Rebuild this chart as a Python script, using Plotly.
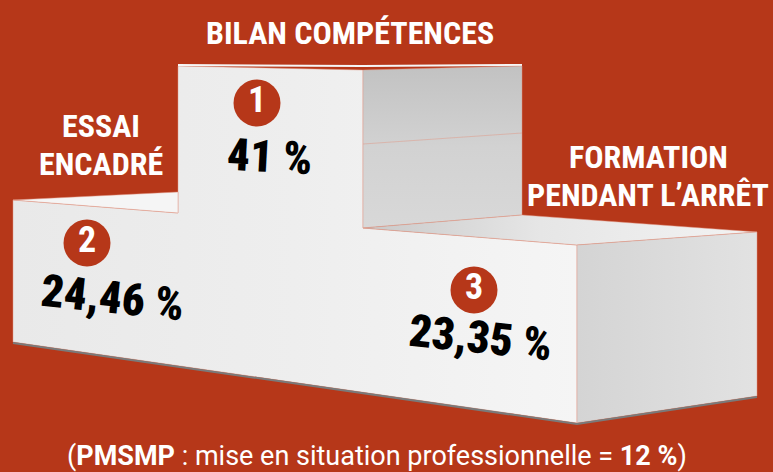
import plotly.graph_objects as go

# rankings (podium order: 1st, 2nd, 3rd)
ranks = [1, 2, 3]
categories = ["BILAN COMPÉTENCES", "ESSAI ENCADRÉ", "FORMATION PENDANT L’ARRÊT"]
cat_lines = [["BILAN COMPÉTENCES"], ["ESSAI", "ENCADRÉ"], ["FORMATION", "PENDANT L’ARRÊT"]]
values = [41, 24.46, 23.35]
other_label = "PMSMP"
other_text = "mise en situation professionnelle"
other_value = 12

RED = "#b63719"
EDGE = "rgba(225,150,130,0.8)"
FONT = "Roboto Condensed"
W, H = 773, 472


def fr_pct(v):
    return f"{v:g}".replace(".", ",") + " %"


# podium geometry, in pixels of the page
xl, x1, x2, x3, x4 = 13, 178, 363, 522, 757  # left edge, step 1 left, step 1 right, back right, side right
x_front_r = 577
top1, top1_r, top1_back = 66, 70, 66
step2_back, step2_top_l, step2_top_r = 192, 200, 213
base1_l, base1_r = 228, 215
step3_front, step3_back = 245, 232
bot_l, bot_m, bot_r = 342, 423, 396


def poly(pts, color=None, grad=None, line_color=EDGE, lw=0.6):
    xs = [p[0] for p in pts] + [pts[0][0]]
    ys = [p[1] for p in pts] + [pts[0][1]]
    kw = dict(x=xs, y=ys, mode="lines", fill="toself", hoverinfo="skip",
              line=dict(color=line_color, width=lw), showlegend=False)
    if grad:
        kw["fillgradient"] = grad
    else:
        kw["fillcolor"] = color
    return go.Scatter(**kw)


fig = go.Figure()

# front face
fig.add_trace(poly(
    [(xl, step2_top_l), (x1, step2_top_r), (x1, top1), (x2, top1_r), (x2, base1_l),
     (x_front_r, step3_front), (x_front_r, bot_m), (xl, bot_l)],
    grad=dict(type="horizontal", colorscale=[[0, "#e9e9e9"], [0.5, "#eeeeee"], [1, "#f5f5f5"]])))

# left top sliver
fig.add_trace(poly([(xl, step2_top_l), (x1, step2_back), (x1, step2_top_r)], color="#f5f5f5"))

# top block: thin top highlight
fig.add_trace(go.Scatter(x=[x1, x2, x3], y=[top1 - 1, top1, top1_back - 1], mode="lines", hoverinfo="skip",
                         line=dict(color="#f6f6f6", width=2), showlegend=False))

# top block side face
fig.add_trace(poly(
    [(x2, top1_r), (x3, top1_back), (x3, base1_r), (x2, base1_l)],
    grad=dict(type="vertical", colorscale=[[0, "#d8d8d8"], [0.5, "#d2d2d2"], [1, "#c2c2c2"]])))
fig.add_trace(go.Scatter(x=[x2, x3], y=[144, 133], mode="lines", hoverinfo="skip",
                         line=dict(color=EDGE, width=0.6), showlegend=False))

# top of step 3
fig.add_trace(poly(
    [(x2, base1_l), (x3, base1_r), (x4, step3_back), (x_front_r, step3_front)],
    grad=dict(type="horizontal", colorscale=[[0, "#c9c9c9"], [0.45, "#e6e6e6"], [1, "#f3f3f3"]])))

# side of step 3
fig.add_trace(poly(
    [(x_front_r, step3_front), (x4, step3_back), (x4, bot_r), (x_front_r, bot_m)],
    grad=dict(type="horizontal", colorscale=[[0, "#d4d4d4"], [1, "#e2e2e2"]])))

# dark base edge
fig.add_trace(go.Scatter(x=[xl, x_front_r, x4], y=[bot_l + 1, bot_m + 1, bot_r + 1], mode="lines",
                         hoverinfo="skip", line=dict(color="#7a7a7a", width=2), showlegend=False))

# rank badges
badge_x = [257, 87, 474]
badge_y = [103, 243, 290]
fig.add_trace(go.Scatter(
    x=badge_x, y=badge_y, mode="markers+text", hoverinfo="skip", showlegend=False,
    marker=dict(size=47, color=RED, line=dict(width=0)),
    text=[str(r) for r in ranks], textposition="middle center",
    textfont=dict(family=FONT, size=36, color="white", weight="bold")))

# values
val_pos = [(269, 156, 3), (112, 297, 6), (480, 337, 6)]
for v, (vx, vy, ang) in zip(values, val_pos):
    fig.add_annotation(x=vx, y=vy, text=fr_pct(v), showarrow=False, textangle=ang,
                       font=dict(family=FONT, size=45, color="black", weight=900))

# category labels
label_pos = [[(350, 33)], [(101, 126), (101, 164)], [(648, 157), (648, 195)]]
for lines, pos in zip(cat_lines, label_pos):
    for t, (lx, ly) in zip(lines, pos):
        fig.add_annotation(x=lx, y=ly, text=t, showarrow=False,
                           font=dict(family=FONT, size=32, color="white", weight="bold"))

# footnote
fig.add_annotation(
    x=377, y=456, showarrow=False,
    text=f"(<b>{other_label}</b> : {other_text} = <b>{fr_pct(other_value)}</b>)",
    font=dict(family="Roboto", size=27, color="white"))

fig.update_layout(
    width=W, height=H, margin=dict(l=0, r=0, t=0, b=0),
    paper_bgcolor=RED, plot_bgcolor=RED,
    xaxis=dict(range=[0, W], visible=False, fixedrange=True),
    yaxis=dict(range=[H, 0], visible=False, fixedrange=True),
)

fig.write_html("out.html", config={"displayModeBar": False},
               post_script="document.body.style.margin='0';")
